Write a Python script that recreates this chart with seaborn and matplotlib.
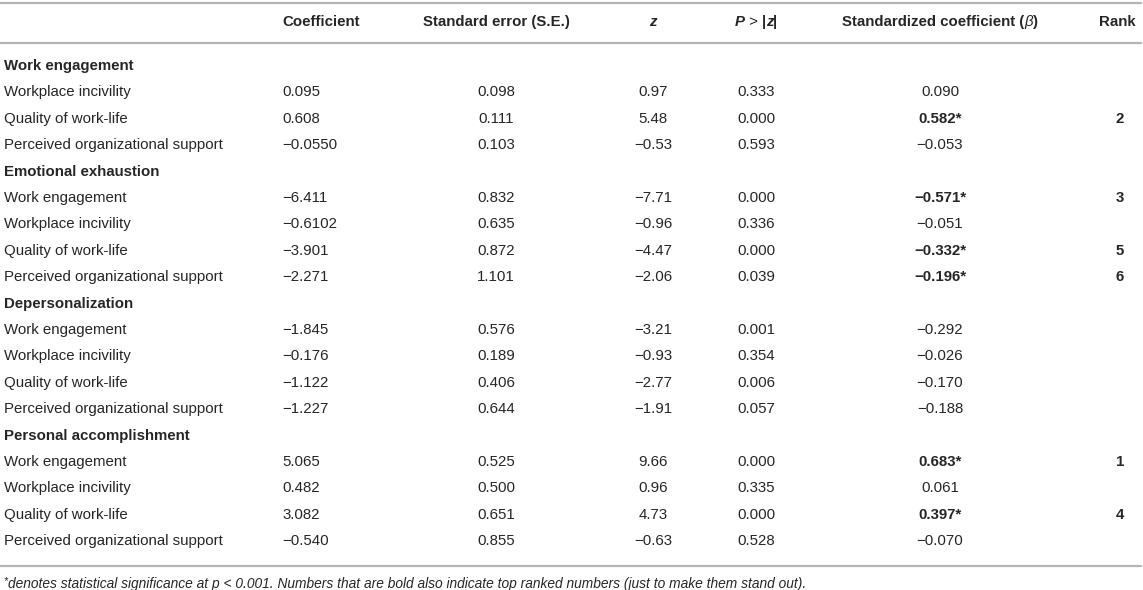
import matplotlib
matplotlib.use("Agg")
import matplotlib.pyplot as plt
import seaborn as sns

# ---------------- data ----------------
columns = ["Coefficient", "Standard error (S.E.)", "z", "P > |z|",
           "Standardized coefficient (β)", "Rank"]
groups = ["Work engagement", "Emotional exhaustion", "Depersonalization",
          "Personal accomplishment"]
group_predictors = [
    ["Workplace incivility", "Quality of work-life", "Perceived organizational support"],
    ["Work engagement", "Workplace incivility", "Quality of work-life", "Perceived organizational support"],
    ["Work engagement", "Workplace incivility", "Quality of work-life", "Perceived organizational support"],
    ["Work engagement", "Workplace incivility", "Quality of work-life", "Perceived organizational support"],
]
coef = ["0.095", "0.608", "−0.0550",
        "−6.411", "−0.6102", "−3.901", "−2.271",
        "−1.845", "−0.176", "−1.122", "−1.227",
        "5.065", "0.482", "3.082", "−0.540"]
se = ["0.098", "0.111", "0.103",
      "0.832", "0.635", "0.872", "1.101",
      "0.576", "0.189", "0.406", "0.644",
      "0.525", "0.500", "0.651", "0.855"]
zval = ["0.97", "5.48", "−0.53",
        "−7.71", "−0.96", "−4.47", "−2.06",
        "−3.21", "−0.93", "−2.77", "−1.91",
        "9.66", "0.96", "4.73", "−0.63"]
pval = ["0.333", "0.000", "0.593",
        "0.000", "0.336", "0.000", "0.039",
        "0.001", "0.354", "0.006", "0.057",
        "0.000", "0.335", "0.000", "0.528"]
beta = ["0.090", "0.582*", "−0.053",
        "−0.571*", "−0.051", "−0.332*", "−0.196*",
        "−0.292", "−0.026", "−0.170", "−0.188",
        "0.683*", "0.061", "0.397*", "−0.070"]
rank = ["", "2", "",
        "3", "", "5", "6",
        "", "", "", "",
        "1", "", "4", ""]
footnote = ("denotes statistical significance at p < 0.001. Numbers that are bold also "
            "indicate top ranked numbers (just to make them stand out).")

# ---------------- style ----------------
sns.set_theme(style="white")
plt.rcParams["font.family"] = ["Liberation Sans", "DejaVu Sans"]
TXT = "#262626"
RULE = "#b4b4b4"
FS = 10.8

W, H = 1143, 590
fig = plt.figure(figsize=(W / 100, H / 100), dpi=100)
ax = fig.add_axes([0, 0, 1, 1])
ax.set_xlim(0, W)
ax.set_ylim(H, 0)
ax.axis("off")

# column anchors (pixels)
X_LABEL, X_COEF, X_SE, X_Z, X_P, X_B, X_R = 4, 282, 496, 653, 756, 940, 1120

# horizontal rules
for y in (3, 43, 566):
    sns.lineplot(x=[0, W - 2], y=[y, y], ax=ax, color=RULE, linewidth=1.6)


def pieces(x, y, parts):
    """Draw a run of differently styled text pieces on one line, centred at x."""
    texts = []
    prev = None
    for s, w, st in parts:
        if prev is None:
            t = ax.text(x, y, s, fontsize=FS, fontweight=w, fontstyle=st,
                        color=TXT, va="center", ha="left")
        else:
            t = ax.annotate(s, xy=(1, 0), xycoords=prev, va="bottom", ha="left",
                            fontsize=FS, fontweight=w, fontstyle=st, color=TXT)
        texts.append(t)
        prev = t
    fig.canvas.draw()
    r = fig.canvas.get_renderer()
    x0 = texts[0].get_window_extent(r).x0
    x1 = texts[-1].get_window_extent(r).x1
    texts[0].set_x(x - (x1 - x0) / 2)
    return texts


header_y = 22
ax.text(X_COEF, header_y, columns[0], fontsize=FS, fontweight="bold", color=TXT,
        va="center", ha="left")
ax.text(X_SE, header_y, columns[1], fontsize=FS, fontweight="bold", color=TXT,
        va="center", ha="center")
ax.text(X_Z, header_y, columns[2], fontsize=FS, fontweight="bold", fontstyle="italic",
        color=TXT, va="center", ha="center")
pieces(X_P, header_y, [("P", "bold", "italic"), (" > ", "normal", "normal"),
                       ("|", "bold", "normal"), ("z", "bold", "italic"),
                       ("|", "bold", "normal")])
pieces(X_B, header_y, [("Standardized coefficient (", "bold", "normal"),
                       ("β", "normal", "italic"), (")", "bold", "normal")])
ax.text(1117, header_y, columns[5], fontsize=FS, fontweight="bold", color=TXT,
        va="center", ha="center")

# body
y0, dy = 66, 26.4
row = 0
k = 0
for g, preds in zip(groups, group_predictors):
    y = y0 + row * dy
    ax.text(X_LABEL, y, g, fontsize=FS, fontweight="bold", color=TXT,
            va="center", ha="left")
    row += 1
    for pname in preds:
        y = y0 + row * dy
        ax.text(X_LABEL, y, pname, fontsize=FS, color=TXT, va="center", ha="left")
        ax.text(X_COEF, y, coef[k], fontsize=FS, color=TXT, va="center", ha="left")
        ax.text(X_SE, y, se[k], fontsize=FS, color=TXT, va="center", ha="center")
        ax.text(X_Z, y, zval[k], fontsize=FS, color=TXT, va="center", ha="center")
        ax.text(X_P, y, pval[k], fontsize=FS, color=TXT, va="center", ha="center")
        b = beta[k]
        ax.text(X_B, y, b, fontsize=FS, color=TXT, va="center", ha="center",
                fontweight="bold" if "*" in b else "normal")
        if rank[k]:
            ax.text(X_R, y, rank[k], fontsize=FS, color=TXT, va="center",
                    ha="center", fontweight="bold")
        row += 1
        k += 1

# footnote
ax.text(3, 581, "*", fontsize=7.5, fontstyle="italic", color=TXT, va="center", ha="left")
ax.text(8, 584, footnote, fontsize=9.9, fontstyle="italic", color=TXT,
        va="center", ha="left")

fig.savefig("out.png", dpi=100)
